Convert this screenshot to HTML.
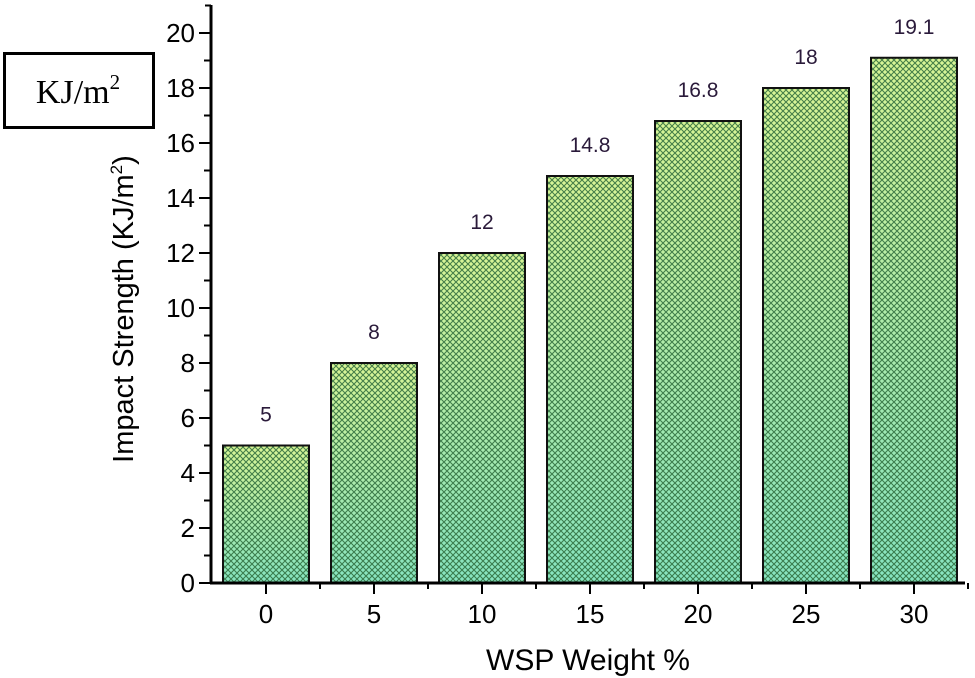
<!DOCTYPE html>
<html><head><meta charset="utf-8"><style>
html,body{margin:0;padding:0;background:#fff;}
svg{display:block;font-family:"Liberation Sans",Arial,sans-serif;}
</style></head><body>
<svg id="chart" width="975" height="678" viewBox="0 0 975 678">
<defs>
<linearGradient id="grad" x1="0" y1="0" x2="0" y2="1">
<stop offset="0" stop-color="#d8f596"/><stop offset="1" stop-color="#86e4c0"/>
</linearGradient>
<pattern id="hatch" width="6" height="6" patternUnits="userSpaceOnUse">
<path d="M0,0 L6,6 M6,0 L0,6" stroke="#2b6a3a" stroke-width="1.1" opacity="0.85"/>
</pattern>
</defs>
<g>
<rect x="4.5" y="53.5" width="149" height="74" fill="#fff" stroke="#000" stroke-width="3"/>
<text x="78" y="103" text-anchor="middle" font-family="Liberation Serif,serif" font-size="34">KJ/m<tspan dy="-14" font-size="21">2</tspan></text>
</g>
<g id="bars"></g>
<g id="axes"></g>
<text x="588" y="670" text-anchor="middle" font-size="30">WSP Weight %</text>
<text transform="translate(133,309) rotate(-90)" text-anchor="middle" font-size="29">Impact Strength (KJ/m<tspan dy="-11" font-size="17">2</tspan><tspan dy="11">)</tspan></text>
</svg>
<script>
const categories = ["0","5","10","15","20","25","30"];
const values = [5, 8, 12, 14.8, 16.8, 18, 19.1];
const valueLabels = ["5","8","12","14.8","16.8","18","19.1"];
const yTicks = [0,2,4,6,8,10,12,14,16,18,20];

const NS = "http://www.w3.org/2000/svg";
const x0 = 211, yBase = 583, pxPerUnit = 27.5, firstCenter = 266, step = 108, barW = 86;
const xPos = i => firstCenter + step * i;
const yPos = v => yBase - v * pxPerUnit;
function mk(tag, attrs, parent) {
  const e = document.createElementNS(NS, tag);
  for (const k in attrs) e.setAttribute(k, attrs[k]);
  parent.appendChild(e);
  return e;
}
const bars = document.getElementById('bars');
values.forEach((v, i) => {
  const g = mk('g', {}, bars);
  
  
  const x = xPos(i) - barW / 2, y = yPos(v), h = yBase - y;
  mk('rect', {x: x, y: y, width: barW, height: h, fill: 'url(#grad)'}, g);
  mk('rect', {x: x, y: y, width: barW, height: h, fill: 'url(#hatch)', stroke: '#111', 'stroke-width': 2}, g);
  const t = mk('text', {x: xPos(i), y: y - 24, 'text-anchor': 'middle', 'font-size': 21, fill: '#2a1a3a'}, g);
  
  
  t.textContent = valueLabels[i];
});
const axes = document.getElementById('axes');
const yAxis = mk('line', {x1: x0, y1: 5, x2: x0, y2: yBase + 1, stroke: '#000', 'stroke-width': 3}, axes);


const xAxis = mk('line', {x1: x0 - 1, y1: yBase, x2: 965, y2: yBase, stroke: '#000', 'stroke-width': 3}, axes);


mk('line', {x1: x0, y1: 5.5, x2: x0 - 6, y2: 5.5, stroke: '#000', 'stroke-width': 2}, axes);
yTicks.forEach(t => {
  const y = yPos(t);
  mk('line', {x1: x0, y1: y, x2: x0 - 12, y2: y, stroke: '#000', 'stroke-width': 2}, axes);
  if (t < 20) mk('line', {x1: x0, y1: yPos(t + 1), x2: x0 - 7, y2: yPos(t + 1), stroke: '#000', 'stroke-width': 2}, axes);
  const lb = mk('text', {x: 195, y: y + 9, 'text-anchor': 'end', 'font-size': 26}, axes);
  
  
  lb.textContent = t;
});
categories.forEach((c, i) => {
  const x = xPos(i);
  mk('line', {x1: x, y1: yBase, x2: x, y2: yBase + 11, stroke: '#000', 'stroke-width': 2}, axes);
  mk('line', {x1: x + step / 2, y1: yBase, x2: x + step / 2, y2: yBase + 6, stroke: '#000', 'stroke-width': 2}, axes);
  const lb = mk('text', {x: x, y: yBase + 40, 'text-anchor': 'middle', 'font-size': 26}, axes);
  
  
  lb.textContent = c;
});
</script>
</body></html>
